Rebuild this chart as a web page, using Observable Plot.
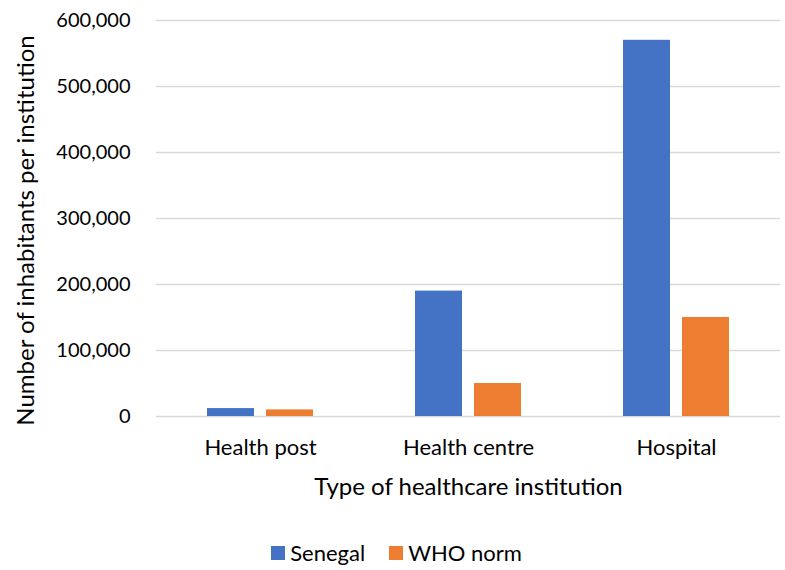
<!DOCTYPE html>
<html>
<head>
<meta charset="utf-8">
<script src="https://cdn.jsdelivr.net/npm/d3@7"></script>
<script src="https://cdn.jsdelivr.net/npm/@observablehq/plot@0.6"></script>
<style>
  body { margin: 0; background: #fff; font-family: Lato, sans-serif; }
  #chart { width: 785px; }
  .lg-swatches-wrap { justify-content: center; margin-top: 26px; padding-left: 32px; }
  .lg-swatches-wrap .lg-swatch { margin-right: 24px !important; }
  .lg-swatch > svg { margin-right: 5px !important; }
</style>
</head>
<body>
<div id="chart"></div>
<script>
// Population served per healthcare institution: Senegal vs. WHO norm
const categories = ["Health post", "Health centre", "Hospital"];
const series = ["Senegal", "WHO norm"];
const senegal = [12000, 190000, 570000];
const whoNorm = [10000, 50000, 150000];
const yTicks = [0, 100000, 200000, 300000, 400000, 500000, 600000];
const colors = ["#4472C4", "#ED7D31"];
const xTitle = "Type of healthcare institution";
const yTitle = "Number of inhabitants per institution";

const rows = categories.flatMap((c, i) => [
  {category: c, series: series[0], value: senegal[i]},
  {category: c, series: series[1], value: whoNorm[i]}
]);

const chart = Plot.plot({
  width: 785,
  height: 510,
  marginTop: 20,
  marginLeft: 156,
  marginRight: 5,
  marginBottom: 94,
  style: {fontFamily: "Lato, sans-serif", fontSize: "20px", color: "#000", background: "#fff"},
  fx: {domain: categories, padding: 0, axis: null},
  x: {domain: series, paddingInner: 0.2, paddingOuter: 0.86, axis: null},
  y: {domain: [0, 600000], axis: null},
  color: {domain: series, range: colors},
  marks: [
    Plot.gridY(yTicks, {stroke: "#d9d9d9", strokeOpacity: 1, strokeWidth: 1.3}),
    Plot.axisY(yTicks, {tickFormat: d3.format(","), tickSize: 0, tickPadding: 26, label: null, fontSize: 20}),
    Plot.axisFx({anchor: "bottom", tickSize: 0, tickPadding: 23, label: null, fontSize: 22}),
    Plot.barY(rows, {fx: "category", x: "series", y: "value", fill: "series"}),
    Plot.text([yTitle], {facet: "super", frameAnchor: "left", textAnchor: "middle", lineAnchor: "middle", rotate: -90, dx: -130, dy: 12, fontSize: 24, fill: "#000"}),
    Plot.text([xTitle], {facet: "super", frameAnchor: "bottom", textAnchor: "middle", lineAnchor: "middle", dy: 71, fontSize: 24, fill: "#000"})
  ]
});

document.getElementById("chart").append(chart);
const legend = chart.legend("color", {swatchSize: 14, className: "lg", style: {fontFamily: "Lato, sans-serif", fontSize: "22px", color: "#000"}});
document.getElementById("chart").append(legend);
</script>
</body>
</html>
